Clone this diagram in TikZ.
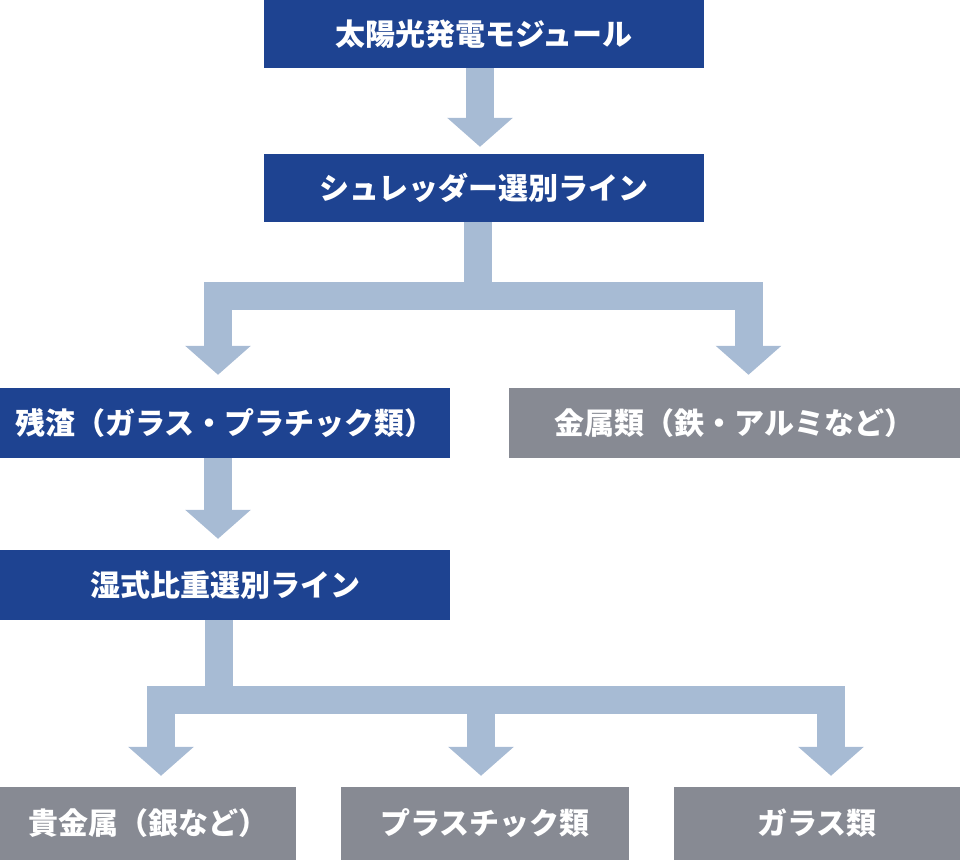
\documentclass[tikz,border=0pt]{standalone}
\usepackage{fontspec}
\newfontfamily\jpfont{Noto Sans CJK JP}
\usepackage{xcolor}
\definecolor{lineBlue}{HTML}{1E4391}
\definecolor{partGray}{HTML}{878A93}
\definecolor{flowBlue}{HTML}{A7BBD4}
\usepackage{tikz}
\usetikzlibrary{positioning,arrows.meta}

\begin{document}
\begin{tikzpicture}[x=1pt,y=-1pt,
  stagebox/.style={fill=lineBlue, draw=none, text=white, inner sep=0pt,
    font=\jpfont\bfseries\fontsize{30}{35}\selectfont},
  partbox/.style={stagebox, fill=partGray},
  pipe/.style={draw=flowBlue, line width=28pt, line join=miter},
  flow/.style={pipe, -{Triangle[width=64pt,length=29pt]}, shorten >=11pt}]
  \useasboundingbox (0,0) rectangle (960,860);
  % Process stages
  \node[stagebox, minimum width=440pt, minimum height=68pt] (module) at (484,34) {太陽光発電モジュール};
  \node[stagebox, minimum width=440pt, minimum height=68pt] (shredder) at (484,188) {シュレッダー選別ライン};
  \node[stagebox, minimum width=450pt, minimum height=70pt] (residue) at (225,423) {残渣（ガラス・プラチック類）};
  \node[partbox, minimum width=451pt, minimum height=70pt] (metals) at (734.5,423) {金属類（鉄・アルミなど）};
  \node[stagebox, minimum width=450pt, minimum height=70pt] (wetline) at (225,585) {湿式比重選別ライン};
  % Recovered materials
  \node[partbox, minimum width=296pt, minimum height=73pt] (precious) at (148,823.5) {貴金属（銀など）};
  \node[partbox, minimum width=288pt, minimum height=73pt] (plastic) at (485,823.5) {プラスチック類};
  \node[partbox, minimum width=286pt, minimum height=73pt] (glass) at (817,823.5) {ガラス類};
  % Module into shredder
  \draw[flow, shorten >=7pt] ([xshift=-4pt]module.south) -- ([xshift=-4pt]shredder.north);
  % Shredder split
  \coordinate (split1) at (478,296);
  \draw[pipe] ([xshift=-6pt]shredder.south) -- (split1);
  \draw[flow, shorten >=13pt] (split1) -| ([xshift=-7pt]residue.north);
  \draw[flow, shorten >=13pt] (split1) -| ([xshift=14pt]metals.north);
  % Residue into wet separation
  \draw[flow] ([xshift=-7pt]residue.south) -- ([xshift=-7pt]wetline.north);
  % Wet separation split
  \coordinate (split2) at (219,700);
  \coordinate (plasticIn) at ([xshift=-4pt]plastic.north);
  \draw[pipe] ([xshift=-6pt]wetline.south) -- (split2);
  \draw[flow] (split2) -| ([xshift=13pt]precious.north);
  \draw[flow] (split2) -| ([xshift=14pt]glass.north);
  \draw[flow] (plasticIn |- split2) -- (plasticIn);
\end{tikzpicture}
\end{document}
